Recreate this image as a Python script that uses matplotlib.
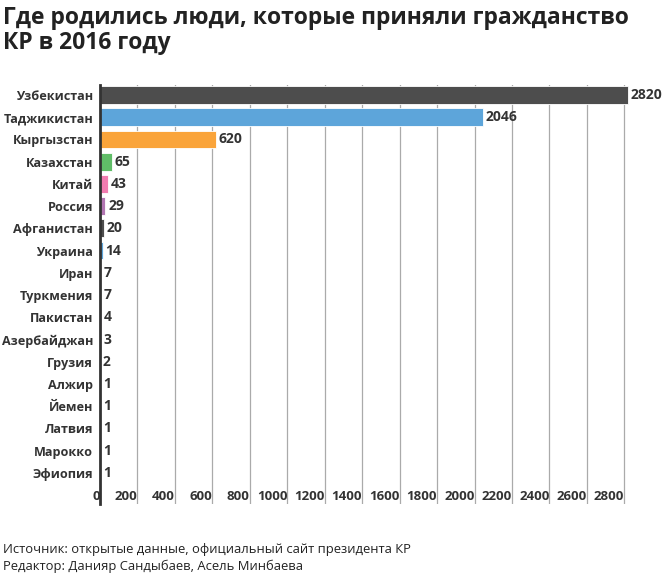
import numpy as np
import matplotlib.pyplot as plt
from matplotlib.transforms import ScaledTranslation

countries = ["Узбекистан", "Таджикистан", "Кыргызстан", "Казахстан", "Китай", "Россия",
             "Афганистан", "Украина", "Иран", "Туркмения", "Пакистан", "Азербайджан",
             "Грузия", "Алжир", "Йемен", "Латвия", "Марокко", "Эфиопия"]
values = [2820, 2046, 620, 65, 43, 29, 20, 14, 7, 7, 4, 3, 2, 1, 1, 1, 1, 1]
palette = ["#4d4d4d", "#5da5da", "#faa43a", "#60bd68", "#f17cb0", "#b276b2"]
xticks = list(range(0, 2801, 200))

title = "Где родились люди, которые приняли гражданство\nКР в 2016 году"
source = "Источник: открытые данные, официальный сайт президента КР"
editor = "Редактор: Данияр Сандыбаев, Асель Минбаева"

plt.rcParams['font.family'] = ['Open Sans', 'DejaVu Sans']
txt = "#333333"

fig = plt.figure(figsize=(6.67, 5.79), dpi=100)
ax = fig.add_axes([100/667, 1 - 504/579, 530/667, 419/579])

y = np.arange(len(countries))
colors = [palette[i % len(palette)] for i in range(len(countries))]
ax.barh(y, values, height=0.8, color=colors, edgecolor="white", linewidth=0.6, zorder=3)
for yi, v in zip(y, values):
    ax.text(v + 14, yi, str(v), va="center", ha="left", fontsize=10,
            fontweight="bold", color=txt, zorder=4)

ax.set_xlim(0, 2830)
ax.set_ylim(18.4, -0.45)
ax.set_yticks(y)
ax.set_yticklabels(countries, fontsize=9.1, fontweight="bold", color=txt)
ax.set_xticks(xticks)
ax.set_xticklabels([str(t) for t in xticks], fontsize=9.5, fontweight="bold",
                   color=txt, ha="right")
shift = ScaledTranslation(-4/100, 0, fig.dpi_scale_trans)
for lab in ax.get_xticklabels():
    lab.set_transform(lab.get_transform() + shift)
ax.tick_params(axis="y", length=0, pad=5)
ax.tick_params(axis="x", length=0, pad=-10)
ax.grid(axis="x", color="#aaaaaa", linewidth=0.9, zorder=0)
for s in ["top", "right", "bottom"]:
    ax.spines[s].set_visible(False)
ax.spines["left"].set_color("#333333")
ax.spines["left"].set_linewidth(2)
ax.spines["left"].set_zorder(5)

fig.text(3/667, 1 - 6/579, title, ha="left", va="top", fontsize=16.5,
         fontweight="bold", color="#222222", linespacing=1.05)
fig.text(3/667, 1 - 549/579, source, ha="left", va="center", fontsize=9.4, color="#222222")
fig.text(3/667, 1 - 566/579, editor, ha="left", va="center", fontsize=9.4, color="#222222")

fig.savefig("out.png", dpi=100)
